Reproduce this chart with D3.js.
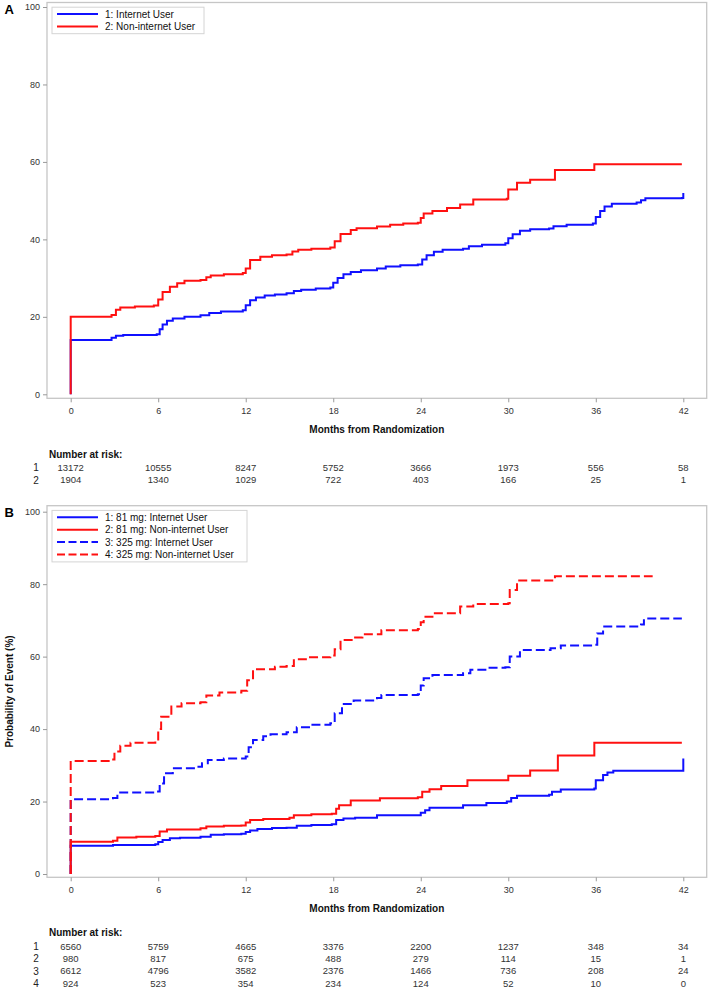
<!DOCTYPE html>
<html><head><meta charset="utf-8">
<script src="https://cdn.jsdelivr.net/npm/d3@7"></script>
<style>body{margin:0;background:#fff}svg{display:block;font-family:"Liberation Sans",Arial,sans-serif}</style>
</head><body>
<svg id="c" width="709" height="990"></svg>
<script>
// ---- data ----
const months = [0, 6, 12, 18, 24, 30, 36, 42];
const yTicks = [0, 20, 40, 60, 80, 100];

const labelsA = ["1: Internet User", "2: Non-internet User"];
const labelsB = ["1: 81 mg: Internet User", "2: 81 mg: Non-internet User", "3: 325 mg: Internet User", "4: 325 mg: Non-internet User"];

const riskA1 = [13172, 10555, 8247, 5752, 3666, 1973, 556, 58];
const riskA2 = [1904, 1340, 1029, 722, 403, 166, 25, 1];
const riskB1 = [6560, 5759, 4665, 3376, 2200, 1237, 348, 34];
const riskB2 = [980, 817, 675, 488, 279, 114, 15, 1];
const riskB3 = [6612, 4796, 3582, 2376, 1466, 736, 208, 24];
const riskB4 = [924, 523, 354, 234, 124, 52, 10, 0];

// [month, cumulative probability %] step points
const curveA1 = [[0,0],[0,14.0],[2.8,14.6],[3.1,15.1],[3.6,15.3],[5.9,15.5],[6.1,16.8],[6.3,18.0],[6.6,19.0],[7.0,19.6],[7.8,20.0],[8.9,20.4],[9.5,21.0],[10.3,21.4],[11.8,21.7],[12.0,23.0],[12.3,24.3],[12.7,25.0],[13.3,25.5],[14.0,25.8],[14.8,26.1],[15.3,26.7],[15.8,27.0],[16.8,27.3],[17.8,27.6],[18.0,28.8],[18.3,30.0],[18.7,31.0],[19.2,31.6],[19.9,32.0],[21.0,32.5],[21.6,33.0],[22.6,33.3],[23.8,33.5],[24.1,34.8],[24.4,35.9],[24.9,36.8],[25.5,37.3],[26.9,37.6],[27.3,38.2],[28.2,38.6],[29.8,39.0],[30.0,40.3],[30.3,41.3],[30.8,42.2],[31.5,42.6],[32.8,42.8],[33.1,43.4],[34.0,43.8],[35.8,44.1],[36.0,45.8],[36.3,47.3],[36.6,48.5],[37.1,49.2],[38.8,49.5],[39.1,50.1],[39.4,50.6],[41.9,50.7],[42,52.0]];
const curveA2 = [[0,0],[0,20.0],[2.8,20.5],[3.1,21.8],[3.4,22.4],[4.4,22.7],[5.7,22.9],[6.0,24.5],[6.3,26.4],[6.8,27.8],[7.3,28.7],[7.8,29.3],[8.9,29.5],[9.3,30.2],[9.6,30.7],[10.5,31.0],[11.8,31.3],[12.0,32.5],[12.3,34.7],[13.0,35.5],[13.8,35.9],[14.8,36.1],[15.2,36.9],[15.6,37.3],[16.5,37.6],[17.8,37.9],[18.1,39.5],[18.5,41.4],[19.2,42.4],[19.6,42.9],[21.0,43.3],[21.9,43.8],[22.8,44.1],[23.8,44.3],[24.0,45.5],[24.2,46.7],[24.8,47.3],[25.8,48.1],[26.7,49.0],[27.6,50.3],[29.9,50.5],[30.0,52.9],[30.6,54.6],[31.5,55.4],[33.2,57.9],[35.9,59.4],[41.9,59.4]];
const curveB1 = [[0,0],[0,7.8],[2.9,8.0],[5.8,8.2],[6.0,8.8],[6.3,9.4],[6.8,9.9],[7.5,10.0],[8.9,10.3],[9.6,10.8],[10.5,11.0],[11.7,11.1],[12.0,11.6],[12.3,12.0],[12.8,12.4],[13.8,12.7],[14.8,12.8],[15.5,13.3],[16.5,13.5],[17.9,13.7],[18.2,14.9],[18.7,15.3],[19.5,15.5],[21.0,16.2],[24.0,16.9],[24.3,17.6],[24.6,18.3],[26.9,19.0],[28.5,19.6],[29.9,20.0],[30.2,21.0],[30.6,21.6],[32.8,21.9],[33.0,22.7],[33.6,23.3],[35.9,23.6],[36.0,25.9],[36.5,27.3],[36.8,28.0],[37.2,28.5],[41.9,28.5],[42,31.9]];
const curveB2 = [[0,0],[0,8.9],[2.9,9.2],[3.2,10.1],[4.5,10.3],[5.8,10.5],[6.1,11.7],[6.6,12.3],[8.9,12.6],[9.3,13.1],[10.5,13.3],[11.7,13.4],[12.0,14.2],[12.3,14.9],[13.2,15.2],[15.0,15.5],[15.3,16.2],[16.5,16.5],[17.9,16.6],[18.2,18.0],[18.4,19.0],[19.2,20.3],[21.2,20.9],[23.8,21.2],[24.1,22.7],[24.6,23.4],[25.4,24.3],[27.2,25.9],[30.0,27.1],[31.5,28.6],[33.4,32.7],[35.9,36.2],[41.9,36.2]];
const curveB3 = [[0,0],[0,20.6],[2.9,21.0],[3.2,22.5],[5.9,22.8],[6.1,25.0],[6.4,27.8],[7.0,29.2],[8.6,29.6],[9.0,30.6],[9.4,31.5],[10.5,31.9],[12.0,32.4],[12.2,35.0],[12.5,37.0],[13.2,38.0],[13.7,38.6],[14.8,39.1],[15.5,40.5],[16.5,41.2],[17.8,41.6],[18.1,44.4],[18.6,46.9],[19.4,47.9],[21.0,48.6],[21.3,49.4],[23.8,49.6],[24.0,52.0],[24.2,54.0],[24.8,54.9],[26.9,55.4],[27.4,56.4],[28.5,56.9],[29.8,57.1],[30.1,60.0],[30.8,61.8],[32.9,62.3],[33.6,63.1],[35.8,63.3],[36.1,66.4],[36.5,68.3],[39.1,68.9],[39.3,70.5],[41.9,70.5]];
const curveB4 = [[0,0],[0,31.2],[2.7,31.6],[3.0,33.8],[3.4,35.4],[4.1,36.2],[5.8,36.6],[6.0,40.0],[6.2,43.4],[6.9,46.2],[7.6,47.1],[8.9,47.4],[9.3,49.3],[10.2,50.1],[11.7,50.6],[12.1,53.5],[12.5,56.5],[14.0,57.2],[14.8,57.4],[15.3,59.3],[16.2,59.8],[17.8,60.3],[18.1,62.0],[18.5,64.6],[19.4,65.3],[20.0,66.2],[21.3,67.3],[23.8,67.6],[24.0,69.5],[24.2,71.0],[24.8,72.0],[26.7,73.8],[27.6,74.5],[30.0,74.7],[30.1,78.4],[30.6,81.0],[33.2,82.2],[39.9,82.2]];

// ---- drawing ----
const svg = d3.select("#c");
const BLUE = "#1010ff", RED = "#ff1010";
const frameL = 47, frameR = 706.7;

function panel(p) {
  const g = svg.append("g");
  const x = d3.scaleLinear().domain([0, 42]).range([70.7, 683.3]);
  const y = d3.scaleLinear().domain([0, 100]).range([p.y0, p.y100]);

  g.append("rect").attr("x", frameL).attr("y", p.top).attr("width", frameR - frameL)
    .attr("height", p.bottom - p.top).attr("fill", "none").attr("stroke", "#c6c6c6").attr("stroke-width", 1.3);

  const ya = g.append("g").attr("transform", `translate(${frameL},0)`)
    .call(d3.axisLeft(y).tickValues(yTicks).tickSize(4).tickPadding(3));
  ya.select(".domain").remove();
  ya.selectAll("line").attr("stroke", "#999");
  ya.selectAll("text").attr("font-size", 9).attr("fill", "#333").attr("font-family", null);

  const xa = g.append("g").attr("transform", `translate(0,${p.bottom})`)
    .call(d3.axisBottom(x).tickValues(months).tickSize(4).tickPadding(5));
  xa.select(".domain").remove();
  xa.selectAll("line").attr("stroke", "#999");
  xa.selectAll("text").attr("font-size", 9).attr("fill", "#333").attr("font-family", null);

  g.append("text").attr("x", (frameL + frameR) / 2).attr("y", p.bottom + 34.5)
    .attr("text-anchor", "middle").attr("font-size", 10).attr("font-weight", "bold")
    .attr("fill", "#111").text("Months from Randomization");

  g.append("text").attr("x", 4.5).attr("y", p.top + 11).attr("font-size", 13)
    .attr("font-weight", "bold").attr("fill", "#000").text(p.letter);

  const line = d3.line().x(d => x(d[0])).y(d => y(d[1])).curve(d3.curveStepAfter);
  p.series.forEach(s => {
    g.append("path").attr("d", line(s.data)).attr("fill", "none")
      .attr("stroke", s.color).attr("stroke-width", 2)
      .attr("stroke-dasharray", s.dash ? "9,4" : null);
  });

  // legend
  const lg = g.append("g");
  lg.append("rect").attr("x", 52).attr("y", p.top + 4.7).attr("width", p.legW)
    .attr("height", p.labels.length * 12.5 + 1.5).attr("fill", "#fff").attr("stroke", "#d4d4d4");
  p.labels.forEach((lab, i) => {
    const s = p.legendStyles[i];
    const cy = p.top + 11.6 + i * 12.4;
    lg.append("line").attr("x1", 57).attr("x2", 98).attr("y1", cy).attr("y2", cy)
      .attr("stroke", s.color).attr("stroke-width", 2).attr("stroke-dasharray", s.dash ? "8,3.5" : null);
    lg.append("text").attr("x", 105).attr("y", cy + 3.6).attr("font-size", 10)
      .attr("fill", "#111").text(lab);
  });

  // number at risk
  g.append("text").attr("x", 49).attr("y", p.riskTitle + 3.6).attr("font-size", 10)
    .attr("font-weight", "bold").attr("fill", "#111").text("Number at risk:");
  p.risk.forEach((row, i) => {
    const cy = p.riskTitle + 13.7 + i * 12.3;
    g.append("text").attr("x", 36).attr("y", cy + 3.5).attr("text-anchor", "middle")
      .attr("font-size", 10).attr("fill", "#222").text(String(i + 1));
    row.forEach((v, j) => {
      g.append("text").attr("x", x(months[j])).attr("y", cy + 3.4).attr("text-anchor", "middle")
        .attr("font-size", 9.5).attr("fill", "#333").text(v);
    });
  });
}

panel({
  letter: "A", top: 2.5, bottom: 398.3, y0: 394.3, y100: 7,
  series: [{data: curveA1, color: BLUE}, {data: curveA2, color: RED}],
  labels: labelsA, legW: 152,
  legendStyles: [{color: BLUE}, {color: RED}],
  risk: [riskA1, riskA2], riskTitle: 454
});

panel({
  letter: "B", top: 505.7, bottom: 877.3, y0: 874, y100: 511.7,
  series: [{data: curveB3, color: BLUE, dash: true}, {data: curveB1, color: BLUE},
           {data: curveB4, color: RED, dash: true}, {data: curveB2, color: RED}],
  labels: labelsB, legW: 195,
  legendStyles: [{color: BLUE}, {color: RED}, {color: BLUE, dash: true}, {color: RED, dash: true}],
  risk: [riskB1, riskB2, riskB3, riskB4], riskTitle: 932.7
});

svg.append("text").attr("transform", "translate(12.5,691.5) rotate(-90)")
  .attr("text-anchor", "middle").attr("font-size", 10).attr("font-weight", "bold")
  .attr("fill", "#111").text("Probability of Event (%)");
</script>
</body></html>
